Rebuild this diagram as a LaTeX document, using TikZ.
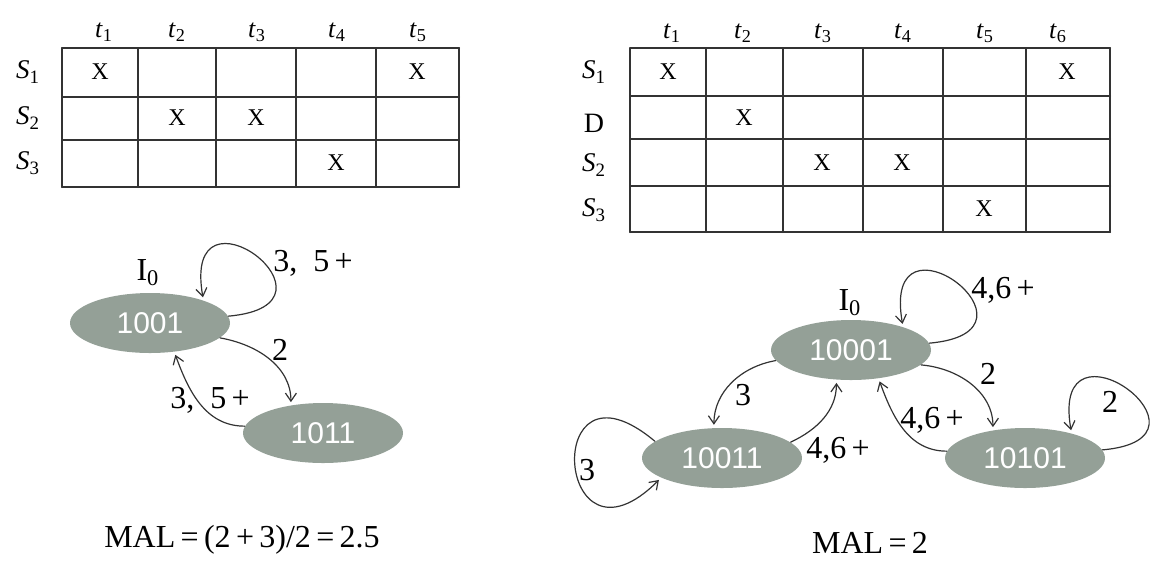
\documentclass[tikz,border=0pt]{standalone}
\usepackage{fontspec}
\setmainfont{Liberation Serif}
\newfontfamily\statefont{Liberation Sans}
\usetikzlibrary{shapes.geometric,arrows.meta}
\definecolor{stategray}{RGB}{148,160,151}
\definecolor{linegray}{RGB}{51,51,51}
\newcommand{\sublab}[2]{\textit{#1}\textsubscript{#2}}
\tikzset{
  state/.style={ellipse, fill=stategray, minimum width=80pt, minimum height=30pt,
    inner sep=0pt, text=white, font=\statefont\fontsize{15}{15}\selectfont},
  trans/.style={->, draw=linegray, line width=0.6pt, shorten >=1.5pt},
  tabline/.style={draw=linegray, line width=1pt},
  lbl/.style={inner sep=0pt, font=\fontsize{16}{16}\selectfont},
  collab/.style={inner sep=0pt, font=\fontsize{13}{13}\selectfont},
  rowlab/.style={inner sep=0pt, font=\fontsize{13.5}{13.5}\selectfont},
  xcell/.style={inner sep=0pt, font=\fontsize{12}{12}\selectfont},
  maltext/.style={inner sep=0pt, font=\fontsize{16}{16}\selectfont}
}
\begin{document}
\begin{tikzpicture}[x=0.5pt, y=0.5pt, >={Straight Barb[length=4pt,width=5.5pt]}, line cap=round]
\useasboundingbox (0,0) rectangle (1160,-569);
% left table
\foreach \x in {62,138,216,296,376,459}
  \draw[tabline] (\x,-48) -- (\x,-187);
\foreach \y in {48,97,140,187}
  \draw[tabline] (62,-\y) -- (459,-\y);
\foreach \i/\x in {1/104,2/177,3/257,4/337,5/418}
  \node[collab] (lt\i) at (\x,-32) {\sublab{t}{\i}};
\foreach \i/\y in {1/72,2/118,3/163}
  \node[rowlab] (ls\i) at (28,-\y) {\sublab{S}{\i}};
\foreach \x/\y [count=\k] in {100/72,417/72,177/118,256/118,336/163}
  \node[xcell] (lx\k) at (\x,-\y) {X};
% right table
\foreach \x in {630,706,783,863,943,1026,1110}
  \draw[tabline] (\x,-48) -- (\x,-232);
\foreach \y in {48,96,139,186,232}
  \draw[tabline] (630,-\y) -- (1110,-\y);
\foreach \i/\x in {1/672,2/743,3/823,4/903,5/985,6/1058}
  \node[collab] (rt\i) at (\x,-33) {\sublab{t}{\i}};
\node[rowlab] (rs1) at (594,-72) {\sublab{S}{1}};
\node[rowlab, font=\fontsize{14}{14}\selectfont] (rd) at (594,-123) {D};
\node[rowlab] (rs2) at (594,-165) {\sublab{S}{2}};
\node[rowlab] (rs3) at (594,-210) {\sublab{S}{3}};
\foreach \x/\y [count=\k] in {668/72,1067/72,744/118,822/163,902/163,984/209}
  \node[xcell] (rx\k) at (\x,-\y) {X};
% left state diagram
\node[state] (a1001) at (150,-323) {1001};
\node[state] (a1011) at (323,-433) {1011};
\node[lbl] (ia) at (148,-273) {I\textsubscript{0}};
\node[lbl] (la1) at (313,-263) {3,~~5\,+};
\node[lbl] (la2) at (280,-350) {2};
\node[lbl] (la3) at (210,-400) {3,~~5\,+};
\draw[trans] (a1001.5) to[out=5,in=100,distance=65pt] (a1001.23);
\draw[trans] (a1001.-12) to[out=-10,in=90] (a1011.139);
\draw[trans] (a1011.175) to[out=180,in=-70] (a1001.-50);
% right state diagram
\node[state] (b10001) at (851,-350) {10001};
\node[state] (b10011) at (722,-458) {10011};
\node[state] (b10101) at (1025,-458) {10101};
\node[lbl] (ib) at (850,-303) {I\textsubscript{0}};
\node[lbl] (lb1) at (1003,-290) {4,6\,+};
\node[lbl] (lb2) at (743,-395) {3};
\node[lbl] (lb3) at (838,-450) {4,6\,+};
\node[lbl] (lb4) at (988,-374) {2};
\node[lbl] (lb5) at (932,-420) {4,6\,+};
\node[lbl] (lb6) at (1110,-402) {2};
\node[lbl] (lb7) at (587,-470) {3};
\draw[trans] (b10001.5) to[out=5,in=100,distance=65pt] (b10001.24);
\draw[trans] (b10001.188) to[out=190,in=90] (b10011.105);
\draw[trans] (b10011.13) to[out=25,in=-90] (b10001.-116);
\draw[trans] (b10001.-12) to[out=-5,in=90] (b10101.139);
\draw[trans] (b10101.175) to[out=180,in=-70] (b10001.-46);
\draw[trans] (b10101.6) to[out=5,in=100,distance=65pt] (b10101.28);
\draw[trans] (b10011.166) to[out=140,in=-135,distance=75pt] (b10011.198);
% MAL
\node[maltext] (mala) at (242,-540) {MAL\,=\,(2\,+\,3)/2\,=\,2.5};
\node[maltext] (malb) at (870,-543) {MAL\,=\,2};
\end{tikzpicture}
\end{document}
